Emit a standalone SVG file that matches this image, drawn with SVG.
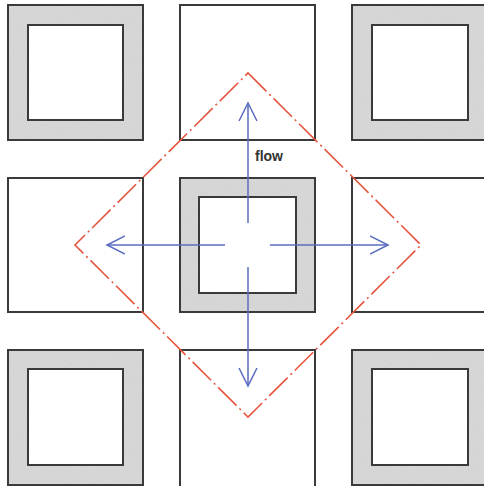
<svg xmlns="http://www.w3.org/2000/svg" width="484" height="486" viewBox="0 0 484 486">
  <defs>
    <filter id="tex" x="0" y="0" width="1" height="1">
      <feTurbulence type="fractalNoise" baseFrequency="0.8" numOctaves="2" seed="3" result="n"/>
      <feColorMatrix in="n" type="matrix" values="0 0 0 0 0.65  0 0 0 0 0.65  0 0 0 0 0.65  0 0 0 -3 1.9" result="dots"/>
      <feComposite in="dots" in2="SourceGraphic" operator="in" result="d2"/>
      <feMerge><feMergeNode in="SourceGraphic"/><feMergeNode in="d2"/></feMerge>
    </filter>
    <marker id="ah" viewBox="0 0 20 20" refX="18" refY="10" markerWidth="20" markerHeight="20" markerUnits="userSpaceOnUse" orient="auto">
      <path d="M0,1 L18,10 L0,19" fill="none" stroke="#5a6cc0" stroke-width="1.5"/>
    </marker>
  </defs>
  <style>
    .ring { fill: #d8d8d8; stroke: none; }
    .edge { fill: none; stroke: #3a3a3a; stroke-width: 2; }
    .plain { fill: #ffffff; stroke: #3a3a3a; stroke-width: 2; }
    .inner { fill: #ffffff; stroke: #3a3a3a; stroke-width: 2; }
    .flow { fill: none; stroke: #5a6cc0; stroke-width: 1.5; marker-end: url(#ah); }
    .zone { fill: none; stroke: #e4553f; stroke-width: 1.6; stroke-dasharray: 26 4 2 4; }
    .lbl { font-family: "Liberation Sans", Arial, sans-serif; font-size: 14px; font-weight: bold; fill: #333333; }
  </style>
  <rect width="484" height="486" fill="#ffffff"/>

  <g id="block-tl">
    <rect class="ring" x="8" y="5" width="135" height="135" filter="url(#tex)"/>
    <rect class="edge" x="8" y="5" width="135" height="135"/>
    <rect class="inner" x="28" y="25" width="95" height="95"/>
  </g>
  <g id="block-tm">
    <rect class="plain" x="180" y="5" width="135" height="135"/>
  </g>
  <g id="block-tr">
    <rect class="ring" x="352" y="5" width="136" height="135" filter="url(#tex)"/>
    <rect class="edge" x="352" y="5" width="136" height="135"/>
    <rect class="inner" x="372" y="25" width="96" height="95"/>
  </g>
  <g id="block-ml">
    <rect class="plain" x="8" y="178" width="135" height="134"/>
  </g>
  <g id="block-center">
    <rect class="ring" x="180" y="178" width="135" height="134" filter="url(#tex)"/>
    <rect class="edge" x="180" y="178" width="135" height="134"/>
    <rect class="inner" x="199" y="197" width="97" height="96"/>
  </g>
  <g id="block-mr">
    <rect class="plain" x="352" y="178" width="136" height="134"/>
  </g>
  <g id="block-bl">
    <rect class="ring" x="8" y="350" width="135" height="135" filter="url(#tex)"/>
    <rect class="edge" x="8" y="350" width="135" height="135"/>
    <rect class="inner" x="28" y="369" width="95" height="96"/>
  </g>
  <g id="block-bm">
    <rect class="plain" x="180" y="350" width="135" height="138"/>
  </g>
  <g id="block-br">
    <rect class="ring" x="352" y="350" width="136" height="135" filter="url(#tex)"/>
    <rect class="edge" x="352" y="350" width="136" height="135"/>
    <rect class="inner" x="372" y="369" width="96" height="96"/>
  </g>

  <g id="connectors">
    <path class="zone" d="M248,73 L421,245 L248,417 L75,245 Z"/>
    <line class="flow" x1="248" y1="223" x2="248" y2="103"/>
    <line class="flow" x1="248" y1="267" x2="248" y2="386"/>
    <line class="flow" x1="225" y1="245" x2="107" y2="245"/>
    <line class="flow" x1="270" y1="245" x2="388" y2="245"/>
  </g>
  <text class="lbl" x="255" y="161">flow</text>
</svg>
